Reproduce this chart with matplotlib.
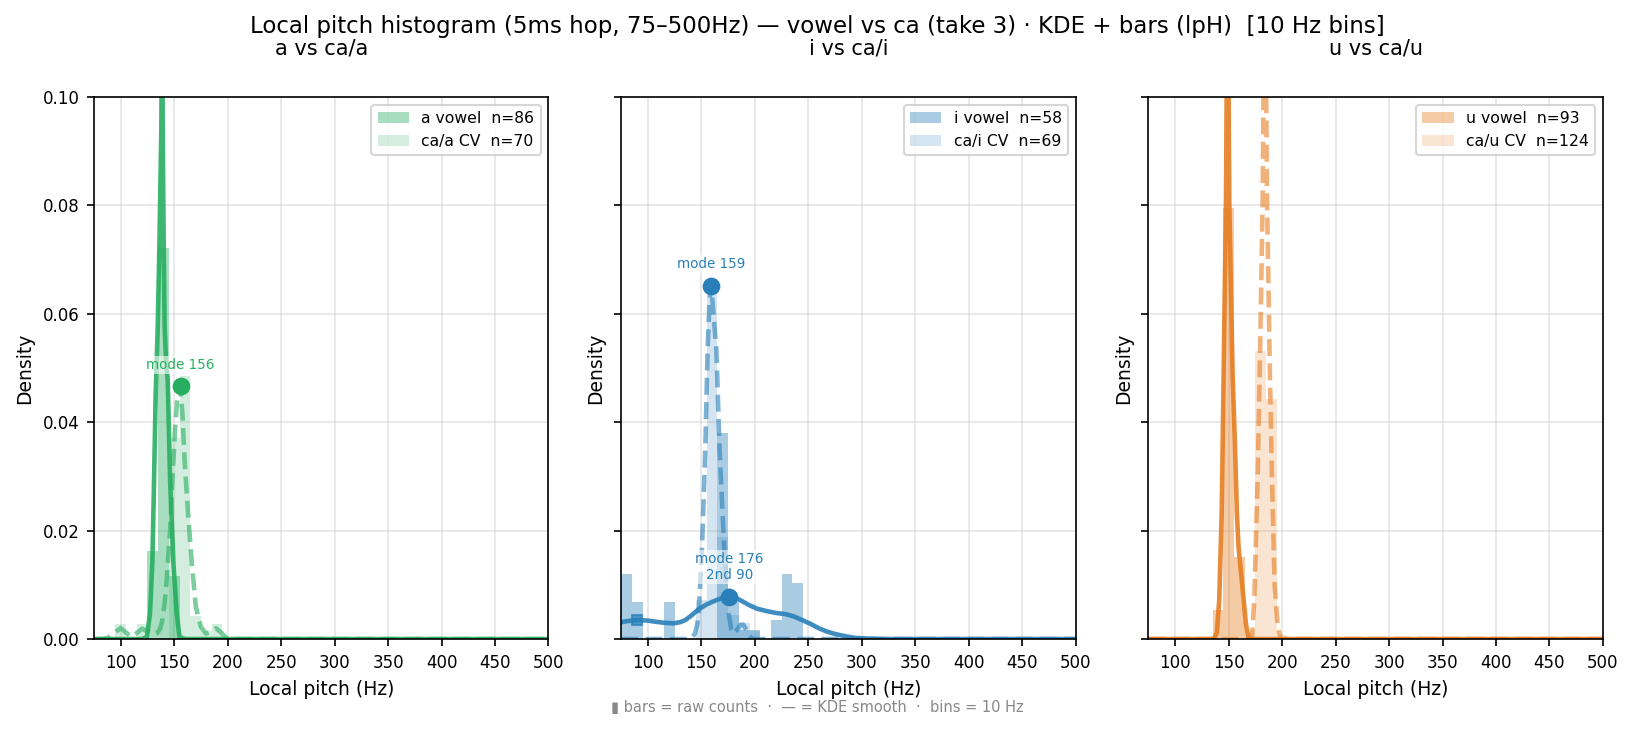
import matplotlib

matplotlib.use("Agg")
import matplotlib.pyplot as plt
import numpy as np

BIN_WIDTH = 10

# --- data --------------------------------------------------------------------
PANEL_TITLES = ["a vs ca/a", "i vs ca/i", "u vs ca/u"]
VOWEL_LABELS = ["a vowel", "i vowel", "u vowel"]
CV_LABELS = ["ca/a CV", "ca/i CV", "ca/u CV"]
COLORS = ["#27ae60", "#2980b9", "#e67e22"]

# histogram bins (left edge, Hz) and raw counts
A_VOWEL_BINS = [125, 135, 145]
A_VOWEL_COUNTS = [14, 62, 10]
CA_A_BINS = [95, 115, 145, 155, 165, 175, 185]
CA_A_COUNTS = [2, 2, 26, 34, 3, 1, 2]

I_VOWEL_BINS = [75, 85, 115, 165, 175, 185, 195, 215, 225, 235]
I_VOWEL_COUNTS = [7, 4, 4, 22, 4, 1, 1, 2, 7, 6]
CA_I_BINS = [145, 155, 165, 175, 185, 195]
CA_I_COUNTS = [5, 45, 13, 3, 2, 1]

U_VOWEL_BINS = [135, 145, 155]
U_VOWEL_COUNTS = [5, 74, 14]
CA_U_BINS = [165, 175, 185, 195]
CA_U_COUNTS = [2, 66, 55, 1]

# KDE curves (Hz, density)
A_VOWEL_KDE_HZ = [75, 120, 124.5, 127.4, 129.6, 131.2, 132.7, 134.6, 136.2, 138.0, 138.7,
                  139.3, 140.2, 141.1, 142.5, 144.0, 146.2, 149.3, 152.4, 155, 160, 500]
A_VOWEL_KDE = [0, 0, 0.0004, 0.0047, 0.014, 0.0293, 0.045, 0.0574, 0.0727, 0.094, 0.118,
               0.094, 0.0727, 0.0574, 0.051, 0.0478, 0.0293, 0.014, 0.0047, 0.0004, 0, 0]
CA_A_KDE_HZ = [75, 82, 88, 95, 100, 105, 110, 115, 120, 124, 128, 131, 134.3, 137, 139, 141,
               143, 146.2, 148.3, 150.8, 153, 155.5, 157.7, 159.9, 163, 166.5, 170.2, 174.9,
               179.6, 184, 189, 194, 198, 205, 500]
CA_A_KDE = [0, 0, 0.0002, 0.0013, 0.002, 0.0012, 0.0004, 0.0011, 0.0019, 0.0015, 0.001,
            0.0009, 0.0011, 0.002, 0.0035, 0.0065, 0.0109, 0.0201, 0.0293, 0.0386, 0.0445,
            0.0466, 0.0416, 0.0324, 0.0232, 0.014, 0.006, 0.0023, 0.001, 0.0013, 0.002,
            0.0012, 0.0003, 0, 0]

I_VOWEL_KDE_HZ = [75, 80, 90, 100, 106.8, 115, 124, 130, 135, 141, 147.4, 155, 163, 170,
                  176, 182, 188, 194.2, 202, 210, 220, 228.6, 236, 244.2, 252, 259.7, 267,
                  275.4, 285, 294, 305, 320, 500]
I_VOWEL_KDE = [0.0031, 0.0033, 0.0035, 0.0034, 0.0032, 0.003, 0.0029, 0.0031, 0.0035,
               0.0044, 0.0055, 0.0064, 0.0071, 0.0076, 0.0078, 0.0076, 0.007, 0.0063,
               0.0056, 0.0052, 0.0048, 0.0046, 0.0042, 0.0035, 0.0028, 0.002, 0.0014,
               0.0009, 0.0005, 0.0002, 0.0001, 0, 0]
CA_I_KDE_HZ = [75, 140, 144, 145.9, 147.4, 150.5, 153.6, 155.8, 157.5, 159, 160.5, 164,
               167, 171.4, 175.5, 178, 180.2, 183, 186.4, 189, 192.7, 195, 197, 200, 500]
CA_I_KDE = [0, 0, 0.001, 0.0025, 0.0045, 0.0164, 0.0349, 0.0533, 0.062, 0.0652, 0.062,
            0.0533, 0.0349, 0.0164, 0.0047, 0.0018, 0.001, 0.0016, 0.0026, 0.0027, 0.0015,
            0.0006, 0.0001, 0, 0]

U_VOWEL_KDE_HZ = [75, 134, 136.7, 139, 141.2, 143.5, 145.3, 147.5, 149.1, 150.6, 153.7,
                  155.9, 157.7, 159.3, 162.5, 166.2, 168.4, 172, 500]
U_VOWEL_KDE = [0, 0, 0.0002, 0.0012, 0.0072, 0.0232, 0.0488, 0.0807, 0.13, 0.0807, 0.0488,
               0.036, 0.0232, 0.0168, 0.0104, 0.0027, 0.0003, 0, 0]
CA_U_KDE_HZ = [75, 170, 171.9, 174, 177.1, 179.6, 181.8, 183.8, 186, 188.5, 190.5, 193,
               196, 199, 500]
CA_U_KDE = [0, 0, 0.0003, 0.0072, 0.0296, 0.0551, 0.0807, 0.13, 0.08, 0.05, 0.03, 0.01,
            0.002, 0, 0]

# mode annotations: (panel, Hz, density, label, marker)
MODE_PANELS = [0, 1, 1, 1]
MODE_HZ = [156, 159, 176, 90]
MODE_DENSITY = [0.0466, 0.0652, 0.0078, 0.0035]
MODE_TEXT = ["mode 156", "mode 159", "mode 176\n2nd 90", ""]
MODE_MARKER = ["o", "o", "o", "s"]

VOWEL_N = [86, 58, 93]
CV_N = [70, 69, 124]

panels = [
    (A_VOWEL_BINS, A_VOWEL_COUNTS, CA_A_BINS, CA_A_COUNTS,
     A_VOWEL_KDE_HZ, A_VOWEL_KDE, CA_A_KDE_HZ, CA_A_KDE),
    (I_VOWEL_BINS, I_VOWEL_COUNTS, CA_I_BINS, CA_I_COUNTS,
     I_VOWEL_KDE_HZ, I_VOWEL_KDE, CA_I_KDE_HZ, CA_I_KDE),
    (U_VOWEL_BINS, U_VOWEL_COUNTS, CA_U_BINS, CA_U_COUNTS,
     U_VOWEL_KDE_HZ, U_VOWEL_KDE, CA_U_KDE_HZ, CA_U_KDE),
]

fig, axes = plt.subplots(1, 3, figsize=(1634 / 150, 732 / 150), dpi=150, sharey=True)
fig.subplots_adjust(left=0.0575, right=0.981, top=0.8675, bottom=0.127, wspace=0.16)

for i, ax in enumerate(axes):
    vb, vc, cb, cc, vkx, vky, ckx, cky = panels[i]
    color = COLORS[i]
    v_den = np.array(vc) / (VOWEL_N[i] * BIN_WIDTH)
    c_den = np.array(cc) / (CV_N[i] * BIN_WIDTH)
    ax.bar(vb, v_den, width=BIN_WIDTH, align="edge", color=color, alpha=0.4, lw=0,
           label=f"{VOWEL_LABELS[i]}  n={VOWEL_N[i]}")
    ax.bar(cb, c_den, width=BIN_WIDTH, align="edge", color=color, alpha=0.2, lw=0,
           label=f"{CV_LABELS[i]}  n={CV_N[i]}")
    ax.plot(ckx, cky, color=color, lw=2.2, ls="--", alpha=0.6)
    ax.plot(vkx, vky, color=color, lw=2.2, alpha=0.9)

    for p, hz, d, txt, mk in zip(MODE_PANELS, MODE_HZ, MODE_DENSITY, MODE_TEXT, MODE_MARKER):
        if p != i:
            continue
        if mk == "s":
            ax.plot(hz, d, marker="s", ms=5, color=color, alpha=0.7, zorder=5)
        else:
            ax.plot(hz, d, marker="o", ms=7.5, color=color, zorder=5)
        if txt:
            ax.annotate(txt, (hz, d), xytext=(0, 7), textcoords="offset points",
                        ha="center", va="bottom", fontsize=6.5, color=color,
                        bbox=dict(boxstyle="square,pad=0.15", fc="white", ec="none", alpha=0.6))

    ax.set_xlim(75, 500)
    ax.set_ylim(0, 0.1)
    ax.set_xticks(range(100, 501, 50))
    ax.set_yticks(np.arange(0, 0.101, 0.02))
    ax.tick_params(labelsize=8)
    ax.grid(True, color="#cccccc", alpha=0.5, lw=0.8)
    ax.set_axisbelow(True)
    ax.set_title(PANEL_TITLES[i], fontsize=10, pad=20.5)
    ax.set_xlabel("Local pitch (Hz)", fontsize=9)
    ax.set_ylabel("Density", fontsize=9)
    ax.legend(loc="upper right", fontsize=7.5)

fig.suptitle("Local pitch histogram (5ms hop, 75–500Hz) — vowel vs ca (take 3) · KDE + bars (lpH)  [10 Hz bins]",
             fontsize=11, y=0.979)
fig.text(0.5, 0.034, "▮ bars = raw counts  ·  — = KDE smooth  ·  bins = 10 Hz",
         ha="center", va="center", fontsize=7, color="#888888")

fig.savefig("out.png", dpi=150)
